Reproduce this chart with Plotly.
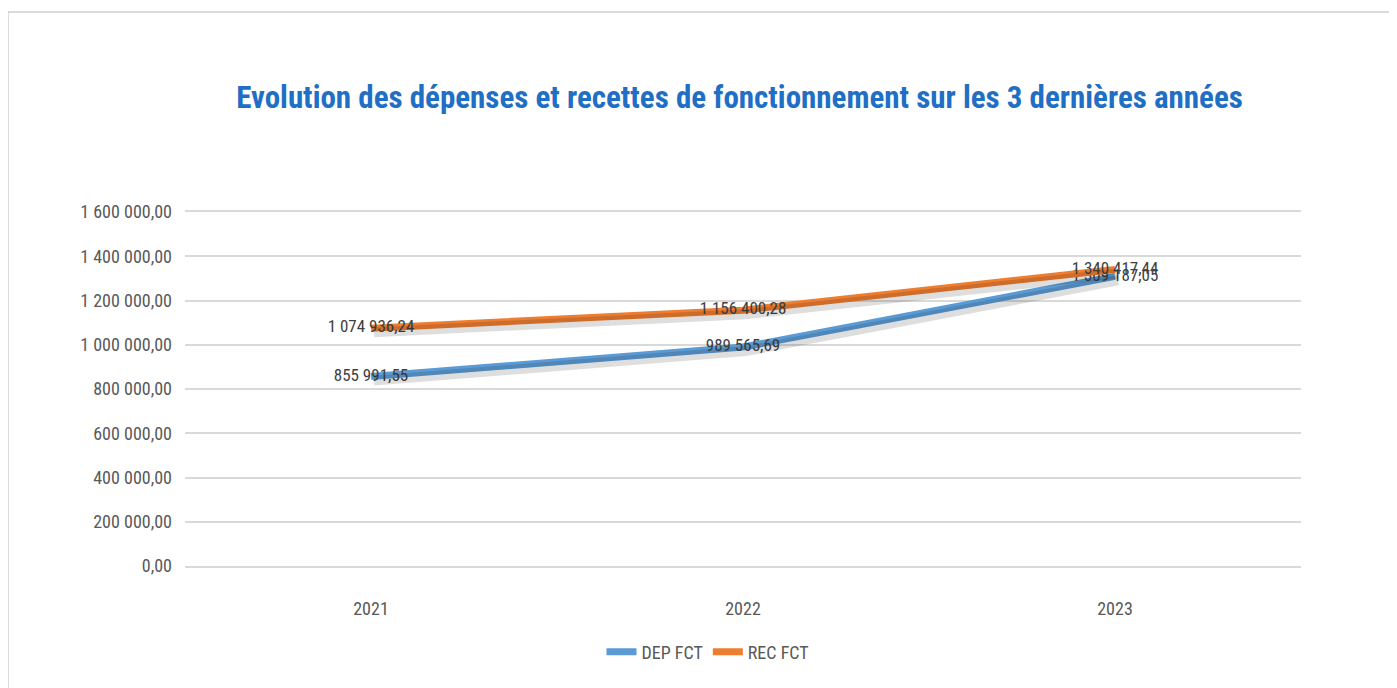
import plotly.graph_objects as go

years = ["2021", "2022", "2023"]
dep_fct = [855991.55, 989565.69, 1309187.05]
rec_fct = [1074936.24, 1156400.28, 1340417.44]
y_ticks = [0, 200000, 400000, 600000, 800000, 1000000, 1200000, 1400000, 1600000]

def fr(v):
    s = f"{v:,.2f}"
    return s.replace(",", " ").replace(".", ",")

# the page body adds an 8px margin, so the figure is 8px smaller and shifted
W, H = 1389, 680
L, R, T, B = 177, 96, 204, 122
FONT = "Liberation Sans Narrow, Roboto Condensed, Roboto, sans-serif"
pw = W - L - R
ph = H - T - B

fig = go.Figure()
# soft drop shadows (same data, drawn on an overlaid axis shifted a few pixels)
for vals in (dep_fct, rec_fct):
    fig.add_trace(go.Scatter(
        x=years, y=vals, mode="lines", showlegend=False, hoverinfo="skip",
        line=dict(color="rgba(0,0,0,0.13)", width=10), xaxis="x2", yaxis="y2",
    ))
fig.add_trace(go.Scatter(
    x=years, y=dep_fct, name="DEP FCT", mode="lines+text",
    line=dict(color="#5B9BD5", width=7),
    text=[fr(v) for v in dep_fct], textposition="middle center",
    textfont=dict(family=FONT, size=17, color="#404040"),
))
fig.add_trace(go.Scatter(
    x=years, y=rec_fct, name="REC FCT", mode="lines+text",
    line=dict(color="#ED7D31", width=7),
    text=[fr(v) for v in rec_fct], textposition="middle center",
    textfont=dict(family=FONT, size=17, color="#404040"),
))

fig.add_shape(type="rect", xref="paper", yref="paper",
              x0=(0 - L) / pw, x1=(W + 5 - L) / pw,
              y0=(H - B - (H + 5)) / ph, y1=(H - B - 4) / ph,
              line=dict(color="#D0D0D0", width=1.5), layer="below")

dy = 4 / ph * 1600000
dx = 3 / pw * 3
fig.update_layout(
    width=W, height=H,
    margin=dict(l=L, r=R, t=T, b=B),
    paper_bgcolor="white", plot_bgcolor="white",
    title=dict(text="<b>Evolution des dépenses et recettes de fonctionnement sur les 3 dernières années</b>",
               x=((237 + 1242) / 2 - 8) / W, xanchor="center", y=1 - (97 - 8) / H, yanchor="middle",
               font=dict(family=FONT, size=31, color="#1F6FC5")),
    xaxis=dict(type="category", range=[-0.5, 2.5], showgrid=False, showline=True, mirror=True,
               linecolor="#D9D9D9", linewidth=1.5, ticks="", ticklabelstandoff=26,
               tickfont=dict(family=FONT, size=18, color="#595959")),
    yaxis=dict(range=[0, 1600000], tickvals=y_ticks, ticktext=[fr(v) for v in y_ticks],
               showgrid=True, gridcolor="#D9D9D9", gridwidth=1.5, zeroline=False,
               ticks="", ticklabelstandoff=12,
               tickfont=dict(family=FONT, size=18, color="#595959")),
    xaxis2=dict(type="category", overlaying="x", range=[-0.5 - dx, 2.5 - dx], visible=False),
    yaxis2=dict(overlaying="y", range=[dy, 1600000 + dy], visible=False),
    legend=dict(orientation="h", x=(708 - 185) / pw, xanchor="center",
                y=-(652 - 566) / ph, yanchor="middle",
                font=dict(family=FONT, size=18, color="#595959")),
    showlegend=True,
)
fig.write_html("out.html")
